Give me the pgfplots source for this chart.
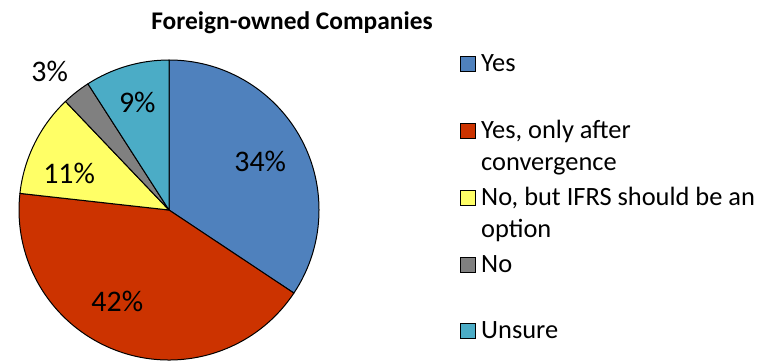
\documentclass[border=0pt]{standalone}
\usepackage{fontspec}
\setmainfont{Carlito}
\usepackage{pgfplots}
\pgfplotsset{compat=1.18}
\usepackage{pgfplotstable}

\definecolor{cYes}{RGB}{79,129,189}
\definecolor{cAfter}{RGB}{204,51,0}
\definecolor{cOption}{RGB}{255,255,102}
\definecolor{cNo}{RGB}{128,128,128}
\definecolor{cUnsure}{RGB}{75,172,198}

% share of answers, in per cent, clockwise from 12 o'clock
% labelr: label distance (radius = 1), labelshift: turn of the label off the mid-angle
\pgfplotstableread[col sep=comma]{
value,color,labelr,labelshift
34,cYes,0.69,0
42,cAfter,0.70,-9.5
11,cOption,0.71,6
3,cNo,1.22,2.5
9,cUnsure,0.75,0
}\piedata

\begin{document}
\begin{tikzpicture}[x=1bp,y=1bp]
\useasboundingbox (0,0) rectangle (769,362);

\node[font=\bfseries\fontsize{25.5}{31}\selectfont, anchor=base] at (292,333) {Foreign-owned Companies};

\begin{axis}[
    at={(169bp,152bp)}, anchor=center,
    width=300bp, height=300bp, scale only axis,
    xmin=-1, xmax=1, ymin=-1, ymax=1,
    hide axis, clip=false
]
\pgfplotstablegetrowsof{\piedata}
\pgfmathtruncatemacro{\nrows}{\pgfplotsretval-1}
\def\total{0}
\pgfplotsforeachungrouped \i in {0,...,\nrows}{%
  \pgfplotstablegetelem{\i}{value}\of\piedata
  \pgfmathsetmacro{\total}{\total+\pgfplotsretval}}
\def\startang{90}
\pgfplotsforeachungrouped \i in {0,...,\nrows}{%
  \pgfplotstablegetelem{\i}{value}\of\piedata \let\val\pgfplotsretval
  \pgfplotstablegetelem{\i}{color}\of\piedata \let\col\pgfplotsretval
  \pgfplotstablegetelem{\i}{labelr}\of\piedata \let\lr\pgfplotsretval
  \pgfplotstablegetelem{\i}{labelshift}\of\piedata \let\ls\pgfplotsretval
  \pgfmathsetmacro{\endang}{\startang-360*\val/\total}
  \pgfmathsetmacro{\midang}{(\startang+\endang)/2+\ls}
  \edef\wedge{%
    \noexpand\filldraw[fill=\col, draw=black, line width=1bp, line join=round]
      (axis cs:0,0) -- (axis cs:{cos(\startang)},{sin(\startang)})
      arc[start angle=\startang, end angle=\endang, radius=150bp] -- cycle;
    \noexpand\node[font=\noexpand\fontsize{30}{36}\noexpand\selectfont]
      at (axis cs:{\lr*cos(\midang)},{\lr*sin(\midang)}) {\val\noexpand\%};}
  \wedge
  \let\startang\endang
}
\end{axis}

% legend
\foreach \c/\la/\lb/\y in {cYes/Yes//291,
    cAfter/{Yes, only after}/convergence/224,
    cOption/{No, but IFRS should be an}/option/157,
    cNo/No//90,
    cUnsure/Unsure//24}{
  \filldraw[fill=\c, draw=black, line width=1bp] (460,\y) rectangle (475,\y+15);
  \node[anchor=base west, inner sep=0pt, font=\fontsize{26.5}{32}\selectfont] at (481,\y) {\la};
  \node[anchor=base west, inner sep=0pt, font=\fontsize{26.5}{32}\selectfont] at (481,\y-32) {\lb};
}
\end{tikzpicture}
\end{document}
